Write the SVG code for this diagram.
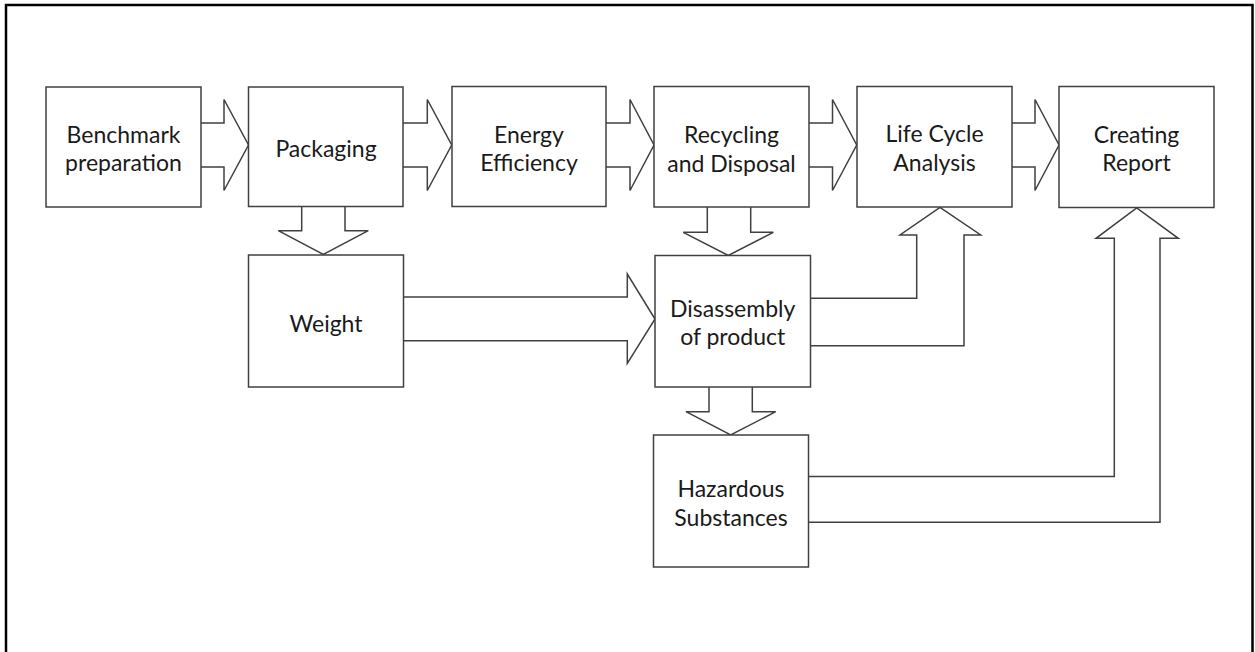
<svg xmlns="http://www.w3.org/2000/svg" width="1255" height="652" viewBox="0 0 1255 652">
  <style>
    .frame { fill: none; stroke: #000; stroke-width: 2.5; }
    .box { fill: #fff; stroke: #404040; stroke-width: 1.5; }
    .arrow { fill: #fff; stroke: #404040; stroke-width: 1.5; stroke-linejoin: miter; }
    .label { font-family: "Lato", "Open Sans", "Liberation Sans", sans-serif; font-size: 23px; fill: #1a1a1a; text-anchor: middle; }
  </style>
  <rect width="1255" height="652" fill="#fff"/>
  <rect class="frame" x="6" y="5" width="1246.5" height="660"/>

  <g id="connectors">
    <!-- block arrows along the top row -->
    <path class="arrow" d="M201,123 H224 V99.5 L248.5,145 L224,190.5 V167 H201"/>
    <path class="arrow" d="M403,123 H427.3 V99.5 L451.7,145 L427.3,190.5 V167 H403"/>
    <path class="arrow" d="M606,123 H630 V99.5 L654,145 L630,190.5 V167 H606"/>
    <path class="arrow" d="M809,123 H832.5 V99.5 L856.7,145 L832.5,190.5 V167 H809"/>
    <path class="arrow" d="M1012,123 H1035 V99.5 L1059,145 L1035,190.5 V167 H1012"/>
    <!-- downward block arrows -->
    <path class="arrow" d="M301.7,206.5 V230.7 H278.3 L323.3,254.5 L368.3,230.7 H345 V206.5"/>
    <path class="arrow" d="M707.3,207 V232.3 H683.3 L728.3,255.5 L773.3,232.3 H750.7 V207"/>
    <path class="arrow" d="M709,387 V411.7 H686 L730.7,435 L775.7,411.7 H752.3 V387"/>
    <!-- Weight to Disassembly -->
    <path class="arrow" d="M403.5,297 H627.3 V274 L655,319 L627.3,363.3 V340.7 H403.5"/>
    <!-- Disassembly up to Life Cycle Analysis -->
    <path class="arrow" d="M810.5,298.3 H916.7 V235 H900 L940,207.5 L980.7,235 H964 V345.7 H810.5"/>
    <!-- Hazardous Substances up to Creating Report -->
    <path class="arrow" d="M808.5,476.5 H1114.3 V238.3 H1096 L1136.7,208 L1178.3,238.3 H1160 V522.3 H808.5"/>
  </g>

  <g id="benchmark">
    <rect class="box" x="46" y="87" width="155" height="120"/>
    <text class="label" x="123.5" y="142.7">Benchmark</text>
    <text class="label" x="123.5" y="171">preparation</text>
  </g>
  <g id="packaging">
    <rect class="box" x="248.5" y="87" width="154.5" height="119.5"/>
    <text class="label" x="326" y="157.3">Packaging</text>
  </g>
  <g id="energy">
    <rect class="box" x="452" y="86.5" width="154" height="120"/>
    <text class="label" x="529" y="143.3">Energy</text>
    <text class="label" x="529" y="170.7">Efficiency</text>
  </g>
  <g id="recycling">
    <rect class="box" x="654" y="86.5" width="155" height="120.5"/>
    <text class="label" x="731.5" y="142.7">Recycling</text>
    <text class="label" x="731.5" y="171.5">and Disposal</text>
  </g>
  <g id="lca">
    <rect class="box" x="857" y="86.5" width="155" height="120.5"/>
    <text class="label" x="934.5" y="141.7">Life Cycle</text>
    <text class="label" x="934.5" y="170.7">Analysis</text>
  </g>
  <g id="report">
    <rect class="box" x="1059" y="86.5" width="155" height="121"/>
    <text class="label" x="1136.5" y="142.5">Creating</text>
    <text class="label" x="1136.5" y="170.7">Report</text>
  </g>
  <g id="weight">
    <rect class="box" x="248.5" y="255" width="155" height="132"/>
    <text class="label" x="326" y="331.7">Weight</text>
  </g>
  <g id="disassembly">
    <rect class="box" x="655" y="255.5" width="155.5" height="131.5"/>
    <text class="label" x="732.7" y="316.7">Disassembly</text>
    <text class="label" x="732.7" y="345">of product</text>
  </g>
  <g id="hazardous">
    <rect class="box" x="653.5" y="435" width="155" height="132"/>
    <text class="label" x="731" y="496.7">Hazardous</text>
    <text class="label" x="731" y="525.7">Substances</text>
  </g>
</svg>
